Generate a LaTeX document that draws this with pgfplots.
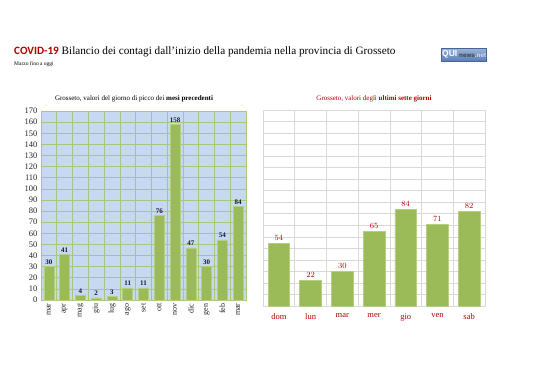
\documentclass[border=0pt]{standalone}
\usepackage{pgfplots}
\pgfplotsset{compat=1.18}
\usepackage{fontspec}
\setmainfont{Liberation Serif}
\newfontfamily\calib{Carlito}
\newfontfamily\sans{Liberation Sans}
\definecolor{barg}{HTML}{9BBB59}
\definecolor{barb}{HTML}{B5CD85}
\definecolor{leftbg}{HTML}{C6D9F1}
\definecolor{leftgrid}{HTML}{A9C77A}
\definecolor{rgrid}{HTML}{D9D9D9}
\definecolor{dred}{HTML}{B00000}
\definecolor{navy}{HTML}{1A1A2E}
\definecolor{logob}{HTML}{5B7DB8}
\definecolor{logol}{HTML}{9DB5DC}
\begin{document}
\begin{tikzpicture}[x=1bp,y=1bp]
\path[use as bounding box, fill=white] (0,0) rectangle (538,380);
% titles
\node[anchor=base west, inner sep=0pt] at (14,326) {\fontsize{11.2bp}{13bp}\selectfont{\calib\bfseries\color{dred}COVID-19} Bilancio dei contagi dall'inizio della pandemia nella provincia di Grosseto};
\node[anchor=base west, inner sep=0pt] at (14,315) {\fontsize{5.5bp}{7bp}\selectfont Marzo fino a oggi};
% logo
\shade[top color=logol, bottom color=logob, draw=logob!80!black, line width=0.3bp] (441,319) rectangle (486,332);
\node[anchor=west, inner sep=0pt] at (442,325.5) {\sans\bfseries\fontsize{8.5bp}{9bp}\selectfont\color{white}QUI};
\node[anchor=west, inner sep=0pt] at (459,324.8) {\sans\bfseries\fontsize{6.3bp}{7bp}\selectfont\color{black!75}news\color{logol!50!white}.net};
% chart titles
\node[anchor=base, inner sep=0pt] at (134,280) {\fontsize{7bp}{8bp}\selectfont Grosseto, valori del giorno di picco dei \textbf{mesi precedenti}};
\node[anchor=base, inner sep=0pt] at (374,280) {\fontsize{7bp}{8bp}\selectfont\color{dred}Grosseto, valori degli \textbf{ultimi sette giorni}};
% left chart
\begin{axis}[
  at={(41bp,80bp)}, anchor=south west,
  scale only axis, width=205bp, height=189bp,
  xmin=-0.5, xmax=12.5, ymin=0, ymax=170,
  xtick={0,...,12},
  xticklabels={mar,apr,mag,giu,lug,ago,set,ott,nov,dic,gen,feb,mar},
  xticklabel style={rotate=90, anchor=east, font=\fontsize{8bp}{9bp}\selectfont, text=black!85},
  ytick={0,10,...,170},
  yticklabel style={font=\fontsize{8.5bp}{9bp}\selectfont, text=black!85},
  /pgf/number format/assume math mode=true,
  minor x tick num=1,
  xminorgrids=true, xmajorgrids=false, ymajorgrids=true,
  grid style={leftgrid, line width=0.6bp},
  minor grid style={leftgrid, line width=0.6bp},
  major tick length=0pt, minor tick length=0pt,
  axis line style={leftgrid, line width=0.6bp},
  axis background/.style={fill=leftbg},
  ybar, bar width=10bp,
  nodes near coords={\bfseries\pgfmathprintnumber{\pgfplotspointmeta}},
  nodes near coords style={font=\fontsize{7bp}{8bp}\selectfont, text=navy, inner sep=2bp},
]
\addplot[fill=barg, draw=barb, line width=0.5bp] coordinates {
(0,30) (1,41) (2,4) (3,2) (4,3) (5,11) (6,11) (7,76) (8,158) (9,47) (10,30) (11,54) (12,84)};
\end{axis}
% right chart
\begin{axis}[
  at={(263bp,74bp)}, anchor=south west,
  scale only axis, width=222bp, height=196bp,
  xmin=-0.5, xmax=6.5, ymin=0, ymax=170,
  xtick={0,...,6},
  xticklabels={dom,lun,mar,mer,gio,ven,sab},
  xticklabel style={font=\fontsize{8.5bp}{9bp}\selectfont, text=dred, yshift=-4bp},
  ytick={0,10,...,170}, yticklabels={},
  minor x tick num=1,
  xminorgrids=true, xmajorgrids=false, ymajorgrids=true,
  grid style={rgrid, line width=0.6bp},
  minor grid style={rgrid, line width=0.6bp},
  major tick length=0pt, minor tick length=0pt,
  axis line style={rgrid, line width=0.6bp},
  ybar, bar width=21.7bp,
  nodes near coords={\bfseries\pgfmathprintnumber{\pgfplotspointmeta}},
  nodes near coords style={font=\fontsize{7.8bp}{8bp}\selectfont, text=dred, inner sep=2.5bp},
]
\addplot[fill=barg, draw=barb, line width=0.5bp] coordinates {
(0,54) (1,22) (2,30) (3,65) (4,84) (5,71) (6,82)};
\end{axis}
\end{tikzpicture}
\end{document}
